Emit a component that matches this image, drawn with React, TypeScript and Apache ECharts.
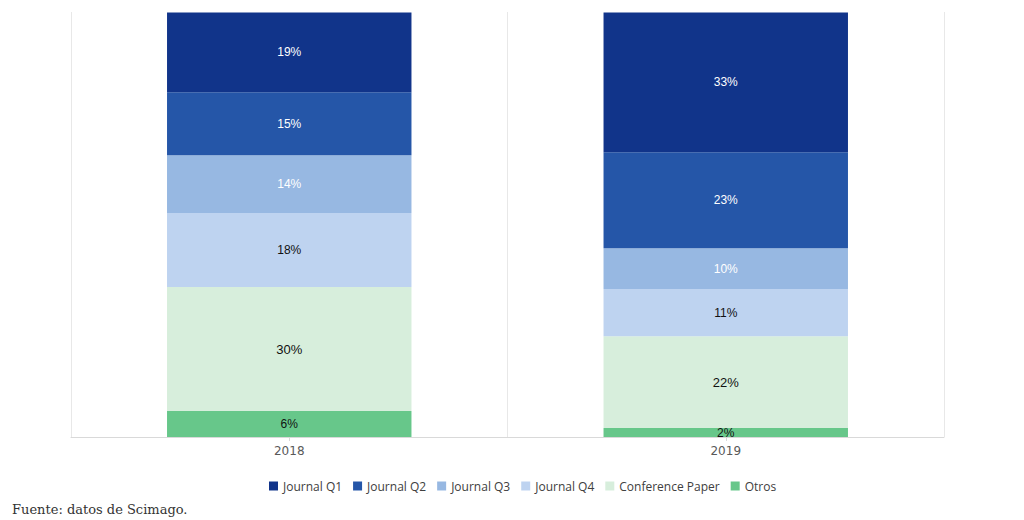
import React, { useEffect, useRef } from "react";
import * as echarts from "echarts";

const categories = ["2018", "2019"];
const seriesNames = ["Journal Q1", "Journal Q2", "Journal Q3", "Journal Q4", "Conference Paper", "Otros"];
// segment heights (share of bar, %)
const journalQ1 = [18.8, 32.9];
const journalQ2 = [14.8, 22.6];
const journalQ3 = [13.6, 9.6];
const journalQ4 = [17.4, 11.1];
const conferencePaper = [29.2, 21.6];
const otros = [6.1, 2.1];
// printed labels (%)
const labelQ1 = [19, 33];
const labelQ2 = [15, 23];
const labelQ3 = [14, 10];
const labelQ4 = [18, 11];
const labelConference = [30, 22];
const labelOtros = [6, 2];
const colors = ["#11348a", "#2556a8", "#97b8e2", "#bed3f0", "#d7eedc", "#67c78a"];
const labelColors = ["#ffffff", "#ffffff", "#ffffff", "#111111", "#111111", "#111111"];

export default function App() {
  const ref = useRef<HTMLDivElement>(null);
  useEffect(() => {
    if (!ref.current) return;
    const chart = echarts.init(ref.current, null, { renderer: "svg" });
    const values = [journalQ1, journalQ2, journalQ3, journalQ4, conferencePaper, otros];
    const labels = [labelQ1, labelQ2, labelQ3, labelQ4, labelConference, labelOtros];
    const orderIdx = [5, 4, 3, 2, 1, 0];
    const series = orderIdx.map((k) => ({
      name: seriesNames[k],
      type: "bar",
      stack: "total",
      barWidth: "56%",
      data: values[k],
      itemStyle: { color: colors[k] },
      label: {
        show: true,
        position: "inside",
        color: labelColors[k],
        fontFamily: "Liberation Sans, Arial, sans-serif",
        fontSize: k === 4 ? 13 : 12,
        formatter: (p: any) => labels[k][p.dataIndex] + "%",
      },
    }));
    chart.setOption({
      animation: false,
      grid: { left: 71, right: 80, top: 12, bottom: 83 },
      legend: {
        data: seriesNames,
        top: 475,
        left: 264,
        icon: "rect",
        itemWidth: 9,
        itemHeight: 9,
        itemGap: 11,
        textStyle: { fontFamily: "Open Sans, Noto Sans, sans-serif", fontSize: 12, color: "#404040" },
      },
      xAxis: {
        type: "category",
        data: categories,
        axisLine: { lineStyle: { color: "#d9d9d9" } },
        axisTick: { show: true, alignWithLabel: true, length: 4, lineStyle: { color: "#d9d9d9" } },
        splitLine: { show: true, lineStyle: { color: "#e8e8e8" } },
        axisLabel: { fontFamily: "DejaVu Sans, sans-serif", fontSize: 12, color: "#595959", margin: 8 },
      },
      yAxis: {
        type: "value",
        min: 0,
        max: 100,
        show: false,
        splitLine: { show: false },
      },
      graphic: [
        {
          type: "text",
          left: 12,
          top: 503,
          style: {
            text: "Fuente: datos de Scimago.",
            font: "13px 'DejaVu Serif', serif",
            fill: "#333333",
          },
        },
      ],
      series,
    });
    return () => chart.dispose();
  }, []);
  return (
    <div
      ref={ref}
      style={{ position: "fixed", left: 0, top: 0, width: 1024, height: 520, background: "#ffffff" }}
    />
  );
}
